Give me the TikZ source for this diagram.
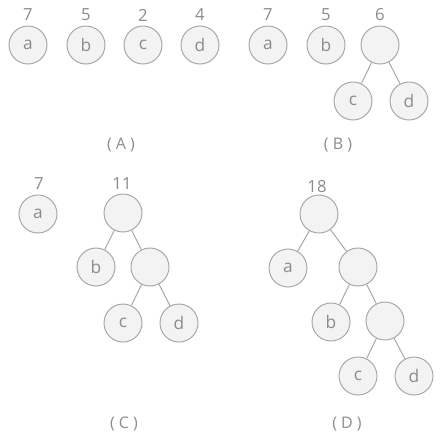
\documentclass[tikz,border=0pt]{standalone}
\usepackage{fontspec}
\setmainfont{Open Sans}
\definecolor{inkgray}{HTML}{8C8C8C}
\definecolor{rimgray}{HTML}{A8A8A8}
\definecolor{ballgray}{HTML}{F3F3F3}

\begin{document}
\begin{tikzpicture}[x=0.75pt,y=-0.75pt,
    ball/.style={circle, draw=rimgray, fill=ballgray, line width=0.75pt, minimum size=28.5pt, inner sep=0pt, text=inkgray, font=\fontsize{13}{13}\selectfont},
    weight/.style={text=inkgray, inner sep=0pt, font=\fontsize{12.5}{13}\selectfont},
    caption/.style={text=inkgray, inner sep=0pt, font=\fontsize{12}{12}\selectfont},
    branch/.style={draw=rimgray, line width=0.75pt}]
\useasboundingbox (0,0) rectangle (445,440);

% (A)
\node[ball] (aa) at (28,45) {a};
\node[ball] (ab) at (86,45) {b};
\node[ball] (ac) at (143,45) {c};
\node[ball] (ad) at (200,45) {d};
\node[weight] (wa1) at (28,15) {7};
\node[weight] (wa2) at (86,15) {5};
\node[weight] (wa3) at (143,15) {2};
\node[weight] (wa4) at (200,15) {4};
\node[caption] (capA) at (121,145) {( A )};

% (B)
\node[ball] (ba) at (268,45) {a};
\node[ball] (bb) at (326,45) {b};
\node[ball] (bcd) at (380,45) {};
\node[ball] (bc) at (353,101) {c};
\node[ball] (bd) at (409,101) {d};
\node[weight] (wb1) at (268,15) {7};
\node[weight] (wb2) at (326,15) {5};
\node[weight] (wb3) at (380,15) {6};
\draw[branch] (bcd) -- (bc);
\draw[branch] (bcd) -- (bd);
\node[caption] (capB) at (338,145) {( B )};

% (C)
\node[ball] (ca) at (38,214) {a};
\node[ball] (cbcd) at (123,213) {};
\node[ball] (cb) at (96,267) {b};
\node[ball] (ccd) at (150,267) {};
\node[ball] (cc) at (123,323) {c};
\node[ball] (cd) at (179,323) {d};
\node[weight] (wc1) at (39,184) {7};
\node[weight] (wc2) at (122,184) {11};
\draw[branch] (cbcd) -- (cb);
\draw[branch] (cbcd) -- (ccd);
\draw[branch] (ccd) -- (cc);
\draw[branch] (ccd) -- (cd);
\node[caption] (capC) at (124,424) {( C )};

% (D)
\node[ball] (dabcd) at (319,214) {};
\node[ball] (da) at (288,268) {a};
\node[ball] (dbcd) at (358,267) {};
\node[ball] (db) at (331,322) {b};
\node[ball] (dcd) at (385,321) {};
\node[ball] (dc) at (358,376) {c};
\node[ball] (dd) at (414,376) {d};
\node[weight] (wd1) at (317,187) {18};
\draw[branch] (dabcd) -- (da);
\draw[branch] (dabcd) -- (dbcd);
\draw[branch] (dbcd) -- (db);
\draw[branch] (dbcd) -- (dcd);
\draw[branch] (dcd) -- (dc);
\draw[branch] (dcd) -- (dd);
\node[caption] (capD) at (347,424) {( D )};
\end{tikzpicture}
\end{document}
